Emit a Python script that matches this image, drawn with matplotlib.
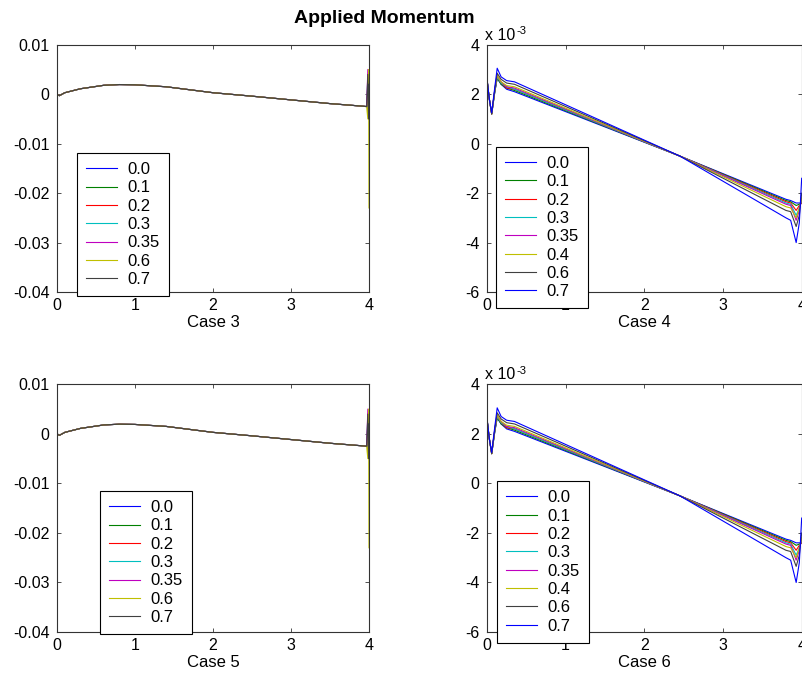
import numpy as np
import matplotlib
matplotlib.use("Agg")
import matplotlib.pyplot as plt

plt.rcParams['font.family'] = ['Liberation Sans', 'DejaVu Sans']
plt.rcParams['axes.unicode_minus'] = False
plt.rcParams['font.size'] = 11.5

# MATLAB default colour order
colors = ['#0000ff', '#008000', '#ff0000', '#00bfbf', '#bf00bf', '#bfbf00', '#404040', '#0000ff']

# ---- cases 3 and 5 (left panels) ----
labels_left = ['0.0', '0.1', '0.2', '0.3', '0.35', '0.6', '0.7']
x_left = [0, 0.03, 0.1, 0.3, 0.6, 0.8, 1.0, 1.4, 2.0, 2.5, 3.0, 3.5, 3.9, 3.97, 3.985, 3.995, 4.0]
y_left_body = [0.0, -0.0003, 0.0003, 0.0011, 0.0018, 0.00195, 0.0019, 0.0015, 0.0003,
               -0.0004, -0.00115, -0.0019, -0.0024]
# last four points of each series (the spike at x = 4)
tails_left = [
    [-0.0025, -0.0015, -0.0030, -0.0020],
    [-0.0025, 0.0005, -0.0045, -0.0010],
    [-0.0025, 0.0020, -0.0050, 0.0010],
    [-0.0025, 0.0035, -0.0040, 0.0030],
    [-0.0025, 0.0050, -0.0050, 0.0045],
    [-0.0025, -0.0050, 0.0050, -0.0230],
    [-0.0025, 0.0040, -0.0050, 0.0020],
]

# ---- cases 4 and 6 (right panels), values in units of 1e-3 ----
labels_right = ['0.0', '0.1', '0.2', '0.3', '0.35', '0.4', '0.6', '0.7']
x_right = [0, 0.03, 0.06, 0.1, 0.13, 0.18, 0.25, 0.35, 2.45, 3.8, 3.86, 3.93, 3.97, 4.0]
y_right = [
    [2.6, 1.8, 1.2, 2.1, 2.65, 2.4, 2.2, 2.1, -0.5, -2.25, -2.3, -2.4, -2.4, -2.4],
    [2.6, 1.8, 1.2, 2.1, 2.65, 2.4, 2.25, 2.15, -0.5, -2.3, -2.35, -2.5, -2.45, -2.4],
    [2.6, 1.8, 1.2, 2.15, 2.7, 2.45, 2.25, 2.2, -0.5, -2.35, -2.4, -2.7, -2.5, -2.4],
    [2.6, 1.8, 1.2, 2.15, 2.7, 2.45, 2.3, 2.2, -0.5, -2.4, -2.45, -2.9, -2.6, -2.3],
    [2.6, 1.8, 1.2, 2.2, 2.75, 2.5, 2.3, 2.25, -0.5, -2.45, -2.5, -3.1, -2.7, -2.2],
    [2.6, 1.8, 1.2, 2.2, 2.75, 2.5, 2.35, 2.3, -0.5, -2.55, -2.6, -3.0, -2.6, -2.2],
    [2.6, 1.8, 1.2, 2.2, 2.85, 2.6, 2.45, 2.4, -0.5, -2.7, -2.75, -3.35, -2.9, -2.0],
    [2.65, 1.8, 1.25, 2.3, 3.05, 2.7, 2.55, 2.5, -0.5, -3.0, -3.1, -4.0, -3.2, -1.4],
]

fig = plt.figure(figsize=(8.02, 6.82), dpi=100)

def style(ax):
    ax.tick_params(direction='in', length=3, width=0.6, top=True, right=True,
                   labelsize=11.5, color='#333333')
    ax.tick_params(axis='y', pad=5.5)
    ax.tick_params(axis='x', pad=4)
    for s in ax.spines.values():
        s.set_color('#333333')
        s.set_linewidth(0.8)

def legend(ax, handles, labels, anchor):
    leg = ax.legend(handles, labels, loc='upper left', bbox_to_anchor=anchor,
                    bbox_transform=fig.transFigure, borderaxespad=0, fancybox=False,
                    framealpha=1, edgecolor='black', fontsize=12, handlelength=1.85,
                    handletextpad=0.65, labelspacing=0.2, borderpad=0.55)
    leg.get_frame().set_linewidth(0.8)
    leg.set_zorder(10)

def left_panel(rect, name, anchor):
    ax = fig.add_axes(rect)
    hs = []
    for i, lab in enumerate(labels_left):
        ys = y_left_body + tails_left[i]
        h, = ax.plot(x_left, ys, color=colors[i], lw=0.8)
        hs.append(h)
    ax.set_xlim(0, 4)
    ax.set_ylim(-0.04, 0.01)
    ax.set_yticks([0.01, 0, -0.01, -0.02, -0.03, -0.04])
    ax.set_yticklabels(['0.01', '0', '-0.01', '-0.02', '-0.03', '-0.04'])
    ax.set_xticks([0, 1, 2, 3, 4])
    ax.set_xlabel(name, labelpad=2, fontsize=12)
    style(ax)
    legend(ax, hs, labels_left, anchor)
    return ax

def right_panel(rect, name, anchor):
    ax = fig.add_axes(rect)
    hs = []
    for i, lab in enumerate(labels_right):
        h, = ax.plot(x_right, y_right[i], color=colors[i], lw=0.8)
        hs.append(h)
    ax.set_xlim(0, 4)
    ax.set_ylim(-6, 4)
    ax.set_yticks([4, 2, 0, -2, -4, -6])
    ax.set_xticks([0, 1, 2, 3, 4])
    ax.set_xlabel(name, labelpad=2, fontsize=12)
    base = ax.text(-0.005, 1.008, 'x 10', transform=ax.transAxes, ha='left', va='bottom',
                   fontsize=11.5)
    ax.annotate('-3', xy=(1, 1), xycoords=base, xytext=(0.5, 1), textcoords='offset points',
                ha='left', va='top', fontsize=8)
    style(ax)
    legend(ax, hs, labels_right, anchor)
    return ax

left_panel([0.0711, 0.5718, 0.389, 0.3626], 'Case 3', (0.0956, 0.7757))
right_panel([0.6072, 0.5718, 0.3924, 0.3626], 'Case 4', (0.618, 0.7849))
left_panel([0.0711, 0.0733, 0.389, 0.3632], 'Case 5', (0.1247, 0.2801))
right_panel([0.6072, 0.0733, 0.3924, 0.3632], 'Case 6', (0.6197, 0.2947))

fig.text(0.479, 0.973, 'Applied Momentum', ha='center', va='center', fontsize=14,
         fontweight='bold')

fig.savefig('out.png', dpi=100)
